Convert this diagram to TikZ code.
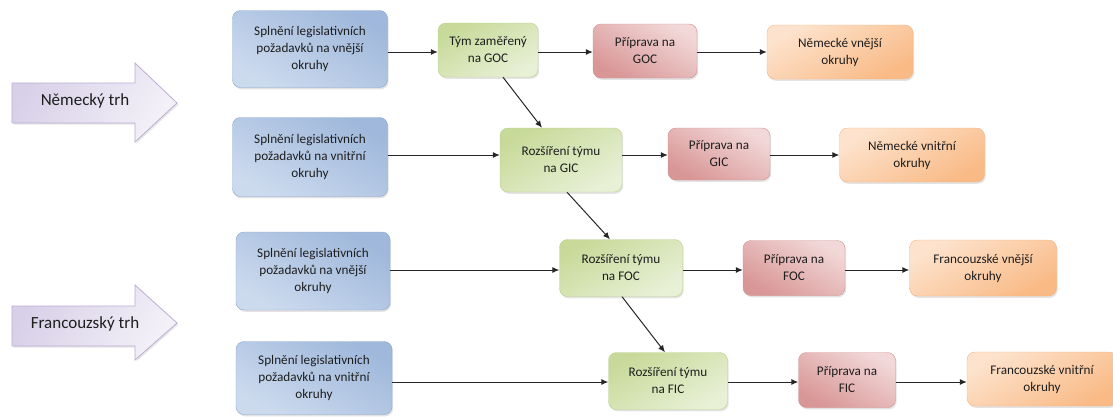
\documentclass[tikz,border=0pt]{standalone}
\usepackage{fontspec}
\setmainfont{Carlito}
\usetikzlibrary{arrows.meta,shadows}
\definecolor{txt}{HTML}{1E1E1E}
\definecolor{bluefill}{HTML}{9FB8DB}
\definecolor{bluelight}{HTML}{CCDAEE}
\definecolor{blueline}{HTML}{86A4CF}
\definecolor{greenfill}{HTML}{C8DA9A}
\definecolor{greenlight}{HTML}{E8F0D6}
\definecolor{greenline}{HTML}{B9D08A}
\definecolor{redfill}{HTML}{D99696}
\definecolor{redlight}{HTML}{F2D8D8}
\definecolor{redline}{HTML}{CF8F8F}
\definecolor{orangefill}{HTML}{F9BA86}
\definecolor{orangelight}{HTML}{FDE3CD}
\definecolor{orangeline}{HTML}{F4B27E}
\definecolor{lavfill}{HTML}{D8D0E8}
\definecolor{lavline}{HTML}{BBADD3}
\tikzset{
  x=1pt, y=-1pt,
  box/.style={rounded corners=8pt, align=center, text=txt,
    font=\fontsize{13.2}{17}\selectfont, inner sep=2pt,
    drop shadow={shadow xshift=1.2pt, shadow yshift=-1.8pt, opacity=0.22}},
  bluebox/.style={box, draw=blueline, top color=bluelight, bottom color=bluefill, shading angle=150,
    minimum width=155pt, minimum height=77pt},
  greenbox/.style={box, draw=greenline, top color=greenlight, bottom color=greenfill, shading angle=210,
    minimum width=121pt, minimum height=56pt},
  redbox/.style={box, draw=redline, top color=redfill, bottom color=redlight, shading angle=150,
    minimum width=103pt, minimum height=54pt},
  orangebox/.style={box, draw=orangeline, top color=orangefill, bottom color=orangelight, shading angle=210,
    minimum width=146pt, minimum height=54pt},
  flow/.style={-{Latex[length=7pt,width=6pt]}, line width=1pt, draw=black!85},
  market/.style={draw=lavline, line width=0.8pt, left color=lavfill, right color=white!70!lavfill,
    shading angle=60, drop shadow={shadow xshift=1.5pt, shadow yshift=-1.5pt, opacity=0.2}},
  marketlabel/.style={text=txt, font=\fontsize{17}{20}\selectfont}
}
\begin{document}
\begin{tikzpicture}
\useasboundingbox (0,0) rectangle (1113,416);

% market arrows
\path[market] (12,83) -- (135,83) -- (135,63) -- (177,103) -- (135,142) -- (135,123) -- (12,123) -- cycle;
\node[marketlabel] (de) at (85,101) {Německý trh};
\path[market] (12,306) -- (135,306) -- (135,285) -- (177,323) -- (135,360) -- (135,346) -- (12,346) -- cycle;
\node[marketlabel] (fr) at (85,324) {Francouzský trh};

% row 1
\node[bluebox] (b1) at (310,49) {Splnění legislativních\\požadavků na vnější\\okruhy};
\node[greenbox, minimum width=100pt, minimum height=54pt] (g1) at (488,50) {Tým zaměřený\\na GOC};
\node[redbox, minimum width=104pt] (r1) at (645,51) {Příprava na\\GOC};
\node[orangebox] (o1) at (840,52) {Německé vnější\\okruhy};

% row 2
\node[bluebox, minimum height=79pt] (b2) at (310,157) {Splnění legislativních\\požadavků na vnitřní\\okruhy};
\node[greenbox, minimum width=122pt, minimum height=64pt] (g2) at (561,160) {Rozšíření týmu\\na GIC};
\node[redbox, minimum width=102pt, minimum height=52pt] (r2) at (719,154) {Příprava na\\GIC};
\node[orangebox, minimum width=145pt] (o2) at (912,155) {Německé vnitřní\\okruhy};

% row 3
\node[bluebox, minimum width=154pt, minimum height=78pt] (b3) at (313,271) {Splnění legislativních\\požadavků na vnější\\okruhy};
\node[greenbox, minimum width=123pt, minimum height=57pt] (g3) at (621,268) {Rozšíření týmu\\na FOC};
\node[redbox, minimum width=102pt, minimum height=55pt] (r3) at (794,268) {Příprava na\\FOC};
\node[orangebox, minimum width=147pt, minimum height=56pt] (o3) at (983,268) {Francouzské vnější\\okruhy};

% row 4
\node[bluebox, minimum width=156pt, minimum height=73pt] (b4) at (314,378) {Splnění legislativních\\požadavků na vnitřní\\okruhy};
\node[greenbox, minimum width=119pt, minimum height=57pt] (g4) at (668,381) {Rozšíření týmu\\na FIC};
\node[redbox, minimum width=97pt, minimum height=55pt] (r4) at (847,380) {Příprava na\\FIC};
\node[orangebox, minimum width=150pt, minimum height=54pt] (o4) at (1042,379) {Francouzské vnitřní\\okruhy};

% horizontal flow
\draw[flow] (b1.east |- 0,52) -- (g1.west |- 0,52);
\draw[flow] (g1.east |- 0,52) -- (r1.west |- 0,52);
\draw[flow] (r1.east |- 0,52) -- (o1.west |- 0,52);
\draw[flow] (b2.east |- 0,155) -- (g2.west |- 0,155);
\draw[flow] (g2.east |- 0,155) -- (r2.west |- 0,155);
\draw[flow] (r2.east |- 0,155) -- (o2.west |- 0,155);
\draw[flow] (b3.east |- 0,270) -- (g3.west |- 0,270);
\draw[flow] (g3.east |- 0,270) -- (r3.west |- 0,270);
\draw[flow] (r3.east |- 0,270) -- (o3.west |- 0,270);
\draw[flow] (b4.east |- 0,382) -- (g4.west |- 0,382);
\draw[flow] (g4.east |- 0,382) -- (r4.west |- 0,382);
\draw[flow] (r4.east |- 0,382) -- (o4.west |- 0,382);

% diagonal hand-over between teams
\draw[flow] (g1.south -| 503,0) -- (g2.north -| 542,0);
\draw[flow] (g2.south -| 567,0) -- (g3.north -| 610,0);
\draw[flow] (g3.south -| 622,0) -- (g4.north -| 665,0);
\end{tikzpicture}
\end{document}
